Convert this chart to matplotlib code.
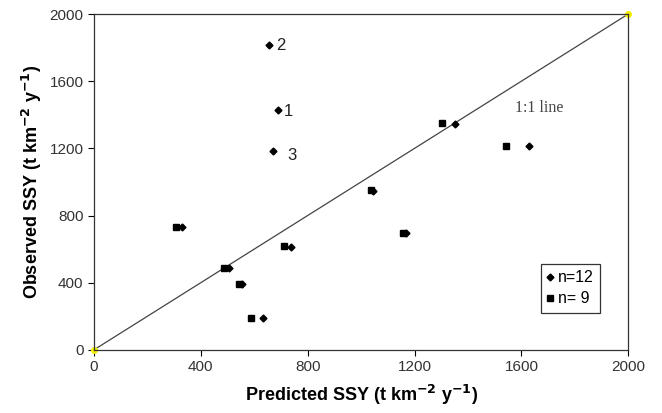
import matplotlib
matplotlib.use("Agg")
import matplotlib.pyplot as plt

plt.rcParams['font.family'] = ['Liberation Sans', 'DejaVu Sans']

# n=12 (diamonds)
pred12 = [688, 654, 670, 1350, 1630, 1045, 1167, 328, 737, 505, 554, 632]
obs12 = [1430, 1818, 1184, 1347, 1214, 947, 693, 731, 612, 485, 392, 188]
lab12 = ['1', '2', '3']

# n=9 (squares)
pred9 = [1301, 1541, 1036, 1157, 308, 712, 485, 542, 588]
obs9 = [1350, 1216, 949, 695, 731, 618, 487, 394, 188]

line11 = [0, 2000]

fig = plt.figure(figsize=(6.62, 4.13), dpi=100)
ax = fig.add_axes([0.142, 0.153, 0.807, 0.813])

ax.plot(line11, line11, color='#444444', lw=0.9, zorder=1)
ax.plot(line11, line11, 'o', color='#f5f000', ms=4, zorder=2, clip_on=False)
ax.plot(pred12, obs12, 'D', color='black', ms=3.5, ls='none', label='n=12', zorder=3)
ax.plot(pred9, obs9, 's', color='black', ms=5, ls='none', label='n= 9', zorder=3)

offs = [(4, -1), (5, -1), (10, -3)]
for i, t in enumerate(lab12):
    ax.annotate(t, (pred12[i], obs12[i]), xytext=offs[i], textcoords='offset points',
                fontsize=12, va='center', color='#222222')

ax.text(1575, 1415, '1:1 line', family='Liberation Serif', fontsize=11.5, color='#444444')

ax.set_xlim(0, 2000)
ax.set_ylim(0, 2000)
ax.set_xticks([0, 400, 800, 1200, 1600, 2000])
ax.set_yticks([0, 400, 800, 1200, 1600, 2000])
ax.tick_params(direction='out', length=4, labelsize=11, labelcolor='#333333', width=0.8)
for s in ax.spines.values():
    s.set_linewidth(0.9)
    s.set_color('#333333')

ax.set_xlabel('Predicted SSY (t km$^{\\mathbf{-2}}$ y$^{\\mathbf{-1}}$)', fontsize=13, fontweight='bold', labelpad=6)
ax.set_ylabel('Observed SSY (t km$^{\\mathbf{-2}}$ y$^{\\mathbf{-1}}$)', fontsize=13, fontweight='bold')

leg = ax.legend(loc='lower right', bbox_to_anchor=(0.948, 0.11), borderaxespad=0, fontsize=11.5,
                frameon=True, fancybox=False, edgecolor='black', handlelength=0.4,
                handletextpad=0.3, borderpad=0.4, labelspacing=0.4)
leg.get_frame().set_linewidth(0.9)

fig.savefig('out.png', dpi=100)
